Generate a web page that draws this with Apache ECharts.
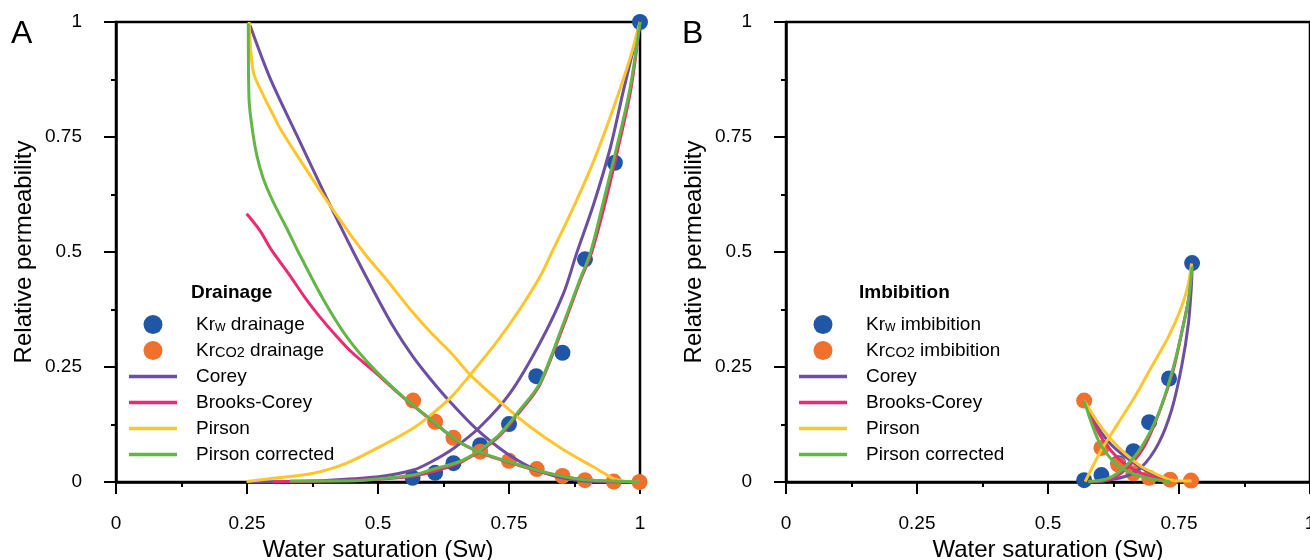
<!DOCTYPE html>
<html>
<head>
<meta charset="utf-8">
<script src="https://cdn.jsdelivr.net/npm/echarts@6/dist/echarts.min.js"></script>
<style>
html,body{margin:0;padding:0;background:#fff;}
#chart{width:1310px;height:560px;}
</style>
</head>
<body>
<div id="chart"></div>
<script>
// ---------- DATA ----------
const tickLabels = ['0', '0.25', '0.5', '0.75', '1'];

// Panel A — drainage measurements [Sw, kr]
const krwDrainage = [[0.566,0.009],[0.609,0.020],[0.644,0.041],[0.695,0.080],[0.750,0.126],[0.802,0.230],[0.852,0.281],[0.895,0.484],[0.952,0.694],[1.0,1.0]];
const krco2Drainage = [[0.567,0.177],[0.609,0.131],[0.644,0.096],[0.695,0.066],[0.750,0.046],[0.803,0.028],[0.852,0.013],[0.895,0.004],[0.950,0.001],[0.999,0.0]];

// Panel A — model curves
const coreyKrwA = [[0.25,0],[0.33,0.001],[0.408,0.004],[0.504,0.012],[0.567,0.026],[0.60,0.043],[0.644,0.073],[0.695,0.120],[0.752,0.193],[0.809,0.302],[0.854,0.410],[0.879,0.497],[0.911,0.602],[0.943,0.725],[0.968,0.849],[1.0,1.0]];
const coreyKrco2A = [[0.2557,0.993],[0.294,0.878],[0.345,0.754],[0.402,0.617],[0.453,0.50],[0.491,0.417],[0.529,0.338],[0.567,0.272],[0.60,0.224],[0.637,0.175],[0.688,0.115],[0.746,0.062],[0.803,0.026],[0.866,0.006],[0.917,0.001],[1.0,0]];
const brooksKrwA = [[0.30,0],[0.40,0.002],[0.50,0.006],[0.567,0.013],[0.618,0.027],[0.663,0.046],[0.727,0.095],[0.771,0.153],[0.809,0.212],[0.854,0.34],[0.885,0.435],[0.908,0.50],[0.932,0.60],[0.957,0.72],[0.982,0.85],[1.0,1.0]];
const brooksKrco2A = [[0.2494,0.583],[0.275,0.546],[0.297,0.504],[0.33,0.452],[0.36,0.402],[0.389,0.359],[0.42,0.318],[0.45,0.282],[0.491,0.242],[0.548,0.184],[0.599,0.137],[0.650,0.090],[0.701,0.061],[0.758,0.040],[0.822,0.019],[0.885,0.006],[0.949,0.001],[1.0,0]];
const pirsonKrwA = [[0.249,0.001],[0.30,0.008],[0.377,0.019],[0.44,0.041],[0.504,0.077],[0.567,0.117],[0.60,0.145],[0.640,0.185],[0.676,0.233],[0.727,0.305],[0.771,0.376],[0.809,0.446],[0.832,0.50],[0.866,0.580],[0.911,0.696],[0.949,0.812],[0.981,0.921],[1.0,1.0]];
const pirsonKrco2A = [[0.254,1.0],[0.262,0.892],[0.281,0.841],[0.300,0.798],[0.313,0.769],[0.345,0.711],[0.408,0.602],[0.472,0.50],[0.517,0.439],[0.561,0.376],[0.599,0.327],[0.640,0.280],[0.676,0.233],[0.739,0.168],[0.790,0.120],[0.854,0.070],[0.911,0.033],[0.93,0.020],[0.95,0.007],[0.975,0.001],[1.0,0]];
const pirsonCorrKrwA = [[0.332,0.002],[0.40,0.002],[0.472,0.004],[0.567,0.015],[0.60,0.026],[0.663,0.048],[0.727,0.098],[0.771,0.157],[0.809,0.215],[0.854,0.345],[0.885,0.439],[0.905,0.497],[0.930,0.609],[0.955,0.725],[0.981,0.856],[1.0,1.0]];
const pirsonCorrKrco2A = [[0.2525,0.997],[0.2538,0.834],[0.259,0.776],[0.2685,0.711],[0.281,0.660],[0.300,0.609],[0.326,0.551],[0.348,0.50],[0.396,0.396],[0.440,0.316],[0.491,0.247],[0.548,0.185],[0.599,0.138],[0.650,0.091],[0.701,0.062],[0.758,0.041],[0.822,0.020],[0.885,0.006],[0.949,0.002],[1.0,0]];

// Panel B — imbibition measurements
const krwImbibition = [[0.569,0.004],[0.602,0.015],[0.634,0.041],[0.663,0.067],[0.693,0.130],[0.731,0.225],[0.775,0.476]];
const krco2Imbibition = [[0.569,0.177],[0.602,0.074],[0.634,0.038],[0.663,0.019],[0.693,0.009],[0.733,0.005],[0.773,0.003]];

// Panel B — model curves
const coreyKrwB = [[0.590,0],[0.647,0.012],[0.679,0.033],[0.711,0.084],[0.736,0.157],[0.755,0.251],[0.768,0.345],[0.774,0.432],[0.775,0.47]];
const coreyKrco2B = [[0.569,0.177],[0.590,0.128],[0.615,0.088],[0.647,0.055],[0.679,0.030],[0.711,0.012],[0.736,0.003]];
const brooksKrwB = [[0.577,0],[0.622,0.008],[0.653,0.033],[0.685,0.080],[0.714,0.157],[0.739,0.243],[0.756,0.330],[0.769,0.403],[0.775,0.47]];
const brooksKrco2B = [[0.569,0.177],[0.587,0.128],[0.608,0.086],[0.635,0.050],[0.665,0.026],[0.700,0.010],[0.736,0.002]];
const pirsonKrwB = [[0.571,0.001],[0.602,0.070],[0.634,0.128],[0.666,0.186],[0.698,0.251],[0.730,0.316],[0.755,0.381],[0.768,0.432],[0.774,0.475]];
const pirsonKrco2B = [[0.569,0.177],[0.596,0.128],[0.622,0.091],[0.647,0.062],[0.679,0.033],[0.711,0.015],[0.736,0.004],[0.774,0.002]];
const pirsonCorrKrwB = [[0.577,0.001],[0.615,0.008],[0.647,0.033],[0.679,0.077],[0.711,0.149],[0.736,0.236],[0.755,0.323],[0.768,0.396],[0.775,0.468]];
const pirsonCorrKrco2B = [[0.569,0.177],[0.583,0.128],[0.599,0.084],[0.622,0.048],[0.647,0.026],[0.679,0.012],[0.711,0.004],[0.733,0.001]];

// ---------- STYLE ----------
const FONT = '"Liberation Sans", Arial, Helvetica, sans-serif';
const C = {
  blue: '#1f57a6', orange: '#f0712d', purple: '#6c4ea2',
  pink: '#ec2a72', yellow: '#fec52e', green: '#62b646'
};
const LINE_ICON = 'path://M0,0L48,0L48,3.5L0,3.5Z';

function xAxisCfg(gridIndex) {
  return {
    gridIndex, type: 'value', min: 0, max: 1, interval: 0.25,
    name: 'Water saturation (Sw)', nameLocation: 'middle', nameGap: 52,
    nameTextStyle: { fontSize: 24, color: '#000', fontFamily: FONT },
    axisLine: { lineStyle: { color: '#000', width: 2.5 } },
    axisTick: { length: 12, lineStyle: { color: '#000', width: 2 } },
    minorTick: { show: true, splitNumber: 2, length: 5, lineStyle: { color: '#000', width: 2 } },
    splitLine: { show: false },
    axisLabel: { fontSize: 19, color: '#000', fontFamily: FONT, margin: 32,
      formatter: v => tickLabels[Math.round(v / 0.25)] }
  };
}
function yAxisCfg(gridIndex) {
  return {
    gridIndex, type: 'value', min: 0, max: 1, interval: 0.25,
    name: 'Relative permeability', nameLocation: 'middle', nameGap: 80,
    nameTextStyle: { fontSize: 24, color: '#000', fontFamily: FONT },
    axisLine: { lineStyle: { color: '#000', width: 2.5 } },
    axisTick: { length: 12, lineStyle: { color: '#000', width: 2 } },
    minorTick: { show: true, splitNumber: 2, length: 5, lineStyle: { color: '#000', width: 2 } },
    splitLine: { show: false },
    axisLabel: { fontSize: 19, color: '#000', fontFamily: FONT, margin: 34,
      formatter: v => tickLabels[Math.round(v / 0.25)] }
  };
}

function scatter(name, data, color, idx) {
  return { type: 'scatter', name, data, xAxisIndex: idx, yAxisIndex: idx,
    symbol: 'circle', symbolSize: 16, itemStyle: { color, opacity: 1 }, z: 2, silent: true };
}
function curve(name, data, color, idx, z) {
  return { type: 'line', name, data, xAxisIndex: idx, yAxisIndex: idx,
    symbol: 'none', showSymbol: false, smooth: 0.3,
    lineStyle: { color, width: 3 }, itemStyle: { color }, z, silent: true };
}

const richStyles = {
  n: { fontSize: 19, fontFamily: FONT, color: '#000', verticalAlign: 'bottom', lineHeight: 19 },
  s: { fontSize: 14.5, fontFamily: FONT, color: '#000', verticalAlign: 'bottom', lineHeight: 19 },
  sp: { width: 14 }
};
function legendFormatter(name) {
  let m = name.match(/^Kr(w|CO2)(.*)$/);
  if (m) return '{sp|}{n|Kr}{s|' + m[1] + '}{n|' + m[2] + '}';
  return '{sp|}{n|' + name + '}';
}
function legendCfg(left, names) {
  return {
    orient: 'vertical', left, top: 310, itemWidth: 48, itemHeight: 19, itemGap: 7,
    selectedMode: false,
    data: names.map((n, i) => i < 2 ? { name: n, icon: 'circle' } : { name: n, icon: LINE_ICON }),
    formatter: legendFormatter,
    textStyle: { fontSize: 19, fontFamily: FONT, color: '#000', lineHeight: 19, rich: richStyles }
  };
}

const modelNames = ['Corey', 'Brooks-Corey', 'Pirson', 'Pirson corrected'];

const option = {
  animation: false,
  backgroundColor: '#fff',
  grid: [
    { left: 116, top: 22, width: 524, height: 460, show: true, borderColor: '#000', borderWidth: 2.5,
      outerBoundsMode: 'none', containLabel: false },
    { left: 786, top: 22, width: 524, height: 460, show: true, borderColor: '#000', borderWidth: 2.5,
      outerBoundsMode: 'none', containLabel: false }
  ],
  xAxis: [xAxisCfg(0), xAxisCfg(1)],
  yAxis: [yAxisCfg(0), yAxisCfg(1)],
  legend: [
    legendCfg(124, ['Krw drainage', 'KrCO2 drainage'].concat(modelNames)),
    legendCfg(794, ['Krw imbibition', 'KrCO2 imbibition'].concat(modelNames))
  ],
  graphic: [
    { type: 'text', left: 11, top: 18, style: { text: 'A', font: '32px ' + FONT, fill: '#000' } },
    { type: 'text', left: 682, top: 18, style: { text: 'B', font: '32px ' + FONT, fill: '#000' } },
    { type: 'text', left: 191, top: 283, style: { text: 'Drainage', font: 'bold 19px ' + FONT, fill: '#000' } },
    { type: 'text', left: 859, top: 283, style: { text: 'Imbibition', font: 'bold 19px ' + FONT, fill: '#000' } }
  ],
  series: [
    scatter('Krw drainage', krwDrainage, C.blue, 0),
    scatter('KrCO2 drainage', krco2Drainage, C.orange, 0),
    curve('Corey', coreyKrwA, C.purple, 0, 3),
    curve('Corey', coreyKrco2A, C.purple, 0, 3),
    curve('Brooks-Corey', brooksKrwA, C.pink, 0, 4),
    curve('Brooks-Corey', brooksKrco2A, C.pink, 0, 4),
    curve('Pirson', pirsonKrwA, C.yellow, 0, 5),
    curve('Pirson', pirsonKrco2A, C.yellow, 0, 5),
    curve('Pirson corrected', pirsonCorrKrwA, C.green, 0, 6),
    curve('Pirson corrected', pirsonCorrKrco2A, C.green, 0, 6),

    scatter('Krw imbibition', krwImbibition, C.blue, 1),
    scatter('KrCO2 imbibition', krco2Imbibition, C.orange, 1),
    curve('Corey', coreyKrwB, C.purple, 1, 3),
    curve('Corey', coreyKrco2B, C.purple, 1, 3),
    curve('Brooks-Corey', brooksKrwB, C.pink, 1, 4),
    curve('Brooks-Corey', brooksKrco2B, C.pink, 1, 4),
    curve('Pirson', pirsonKrwB, C.yellow, 1, 5),
    curve('Pirson', pirsonKrco2B, C.yellow, 1, 5),
    curve('Pirson corrected', pirsonCorrKrwB, C.green, 1, 6),
    curve('Pirson corrected', pirsonCorrKrco2B, C.green, 1, 6)
  ]
};

const chart = echarts.init(document.getElementById('chart'), null, { renderer: 'canvas' });
chart.setOption(option);
</script>
</body>
</html>
